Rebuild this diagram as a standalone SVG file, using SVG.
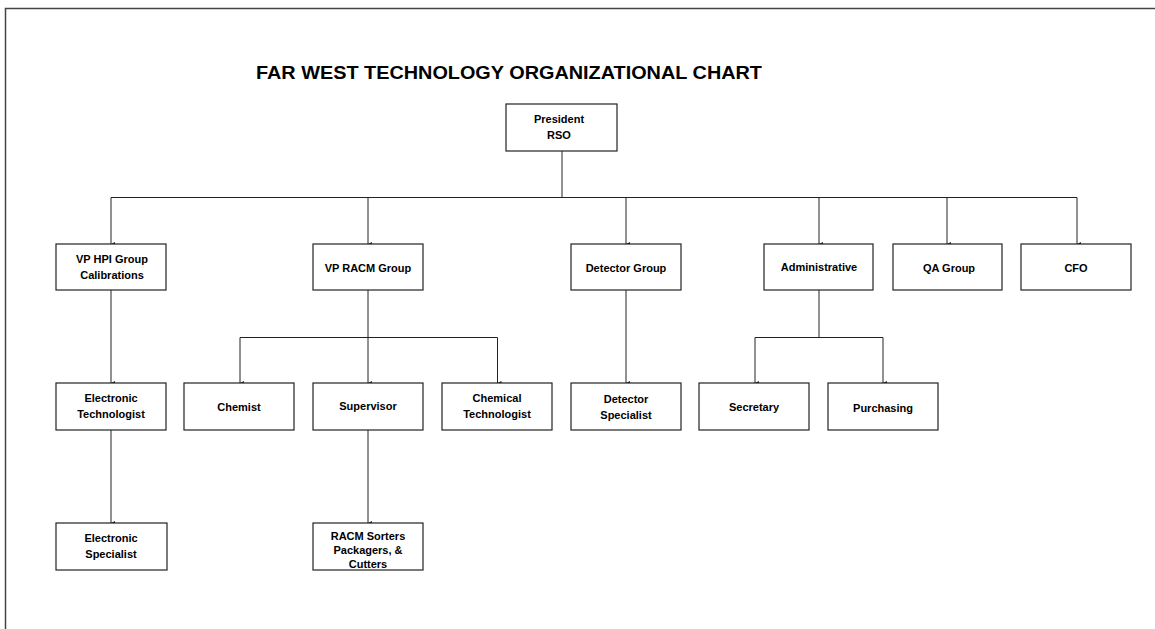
<svg xmlns="http://www.w3.org/2000/svg" width="1155" height="629" viewBox="0 0 1155 629">
<style>
.box{fill:#fff;stroke:#222;stroke-width:1.2}
.t{font-family:"Liberation Sans",Arial,sans-serif;font-weight:bold;font-size:11px;fill:#000;text-anchor:middle}
.title{font-family:"Liberation Sans",Arial,sans-serif;font-weight:bold;font-size:19px;fill:#000;text-anchor:middle}
.c{fill:none;stroke:#222;stroke-width:1}
.frame{stroke:#444;stroke-width:1.5;fill:none}
</style>
<defs>
<marker id="ah" markerWidth="4" markerHeight="4" refX="2" refY="4" orient="auto" markerUnits="userSpaceOnUse">
<path d="M0,0 L4,0 L2,4 Z" fill="#222"/>
</marker>
</defs>
<rect width="1155" height="629" fill="#fff"/>
<path class="frame" d="M5.5,629 V8.5 H1155"/>
<text class="title" x="509" y="79" textLength="506" lengthAdjust="spacingAndGlyphs">FAR WEST TECHNOLOGY ORGANIZATIONAL CHART</text>
<g id="connectors">
<path class="c" d="M562,151 V197.5"/>
<path class="c" d="M111,197.5 H1077"/>
<path class="c" d="M111,197.5 V244" marker-end="url(#ah)"/>
<path class="c" d="M368,197.5 V244" marker-end="url(#ah)"/>
<path class="c" d="M626,197.5 V244" marker-end="url(#ah)"/>
<path class="c" d="M819,197.5 V244" marker-end="url(#ah)"/>
<path class="c" d="M947,197.5 V244" marker-end="url(#ah)"/>
<path class="c" d="M1077,197.5 V244" marker-end="url(#ah)"/>
<path class="c" d="M111,290 V383" marker-end="url(#ah)"/>
<path class="c" d="M368,290 V337.5"/>
<path class="c" d="M240,337.5 H497.5"/>
<path class="c" d="M240,337.5 V383" marker-end="url(#ah)"/>
<path class="c" d="M368,337.5 V383" marker-end="url(#ah)"/>
<path class="c" d="M497.5,337.5 V383" marker-end="url(#ah)"/>
<path class="c" d="M626,290 V383" marker-end="url(#ah)"/>
<path class="c" d="M819,290 V337.5"/>
<path class="c" d="M755,337.5 H883"/>
<path class="c" d="M755,337.5 V383" marker-end="url(#ah)"/>
<path class="c" d="M883,337.5 V383" marker-end="url(#ah)"/>
<path class="c" d="M111,430 V523" marker-end="url(#ah)"/>
<path class="c" d="M368,430 V523" marker-end="url(#ah)"/>
</g>
<g id="president"><rect class="box" x="506" y="104" width="111" height="47"/><text class="t" x="559" y="123">President</text><text class="t" x="559" y="139">RSO</text></g>
<g id="vp-hpi"><rect class="box" x="56" y="244" width="110" height="46"/><text class="t" x="112" y="263">VP HPI Group</text><text class="t" x="112" y="279">Calibrations</text></g>
<g id="vp-racm"><rect class="box" x="313" y="244" width="110" height="46"/><text class="t" x="368" y="272">VP RACM Group</text></g>
<g id="detector-group"><rect class="box" x="571" y="244" width="110" height="46"/><text class="t" x="626" y="272">Detector Group</text></g>
<g id="administrative"><rect class="box" x="764" y="244" width="109" height="46"/><text class="t" x="819" y="271">Administrative</text></g>
<g id="qa-group"><rect class="box" x="893" y="244" width="109" height="46"/><text class="t" x="949" y="272">QA Group</text></g>
<g id="cfo"><rect class="box" x="1021" y="244" width="110" height="46"/><text class="t" x="1076" y="272">CFO</text></g>
<g id="electronic-technologist"><rect class="box" x="56" y="383" width="110" height="47"/><text class="t" x="111" y="402">Electronic</text><text class="t" x="111" y="418">Technologist</text></g>
<g id="chemist"><rect class="box" x="184" y="383" width="110" height="47"/><text class="t" x="239" y="411">Chemist</text></g>
<g id="supervisor"><rect class="box" x="313" y="383" width="110" height="47"/><text class="t" x="368" y="410">Supervisor</text></g>
<g id="chemical-technologist"><rect class="box" x="442" y="383" width="110" height="47"/><text class="t" x="497" y="402">Chemical</text><text class="t" x="497" y="418">Technologist</text></g>
<g id="detector-specialist"><rect class="box" x="571" y="383" width="110" height="47"/><text class="t" x="626" y="403">Detector</text><text class="t" x="626" y="419">Specialist</text></g>
<g id="secretary"><rect class="box" x="699" y="383" width="110" height="47"/><text class="t" x="754" y="411">Secretary</text></g>
<g id="purchasing"><rect class="box" x="828" y="383" width="110" height="47"/><text class="t" x="883" y="412">Purchasing</text></g>
<g id="electronic-specialist"><rect class="box" x="56" y="523" width="111" height="47"/><text class="t" x="111" y="542">Electronic</text><text class="t" x="111" y="558">Specialist</text></g>
<g id="racm-sorters"><rect class="box" x="313" y="523" width="110" height="47"/><text class="t" x="368" y="540">RACM Sorters</text><text class="t" x="368" y="554">Packagers, &amp;</text><text class="t" x="368" y="568">Cutters</text></g>
</svg>
